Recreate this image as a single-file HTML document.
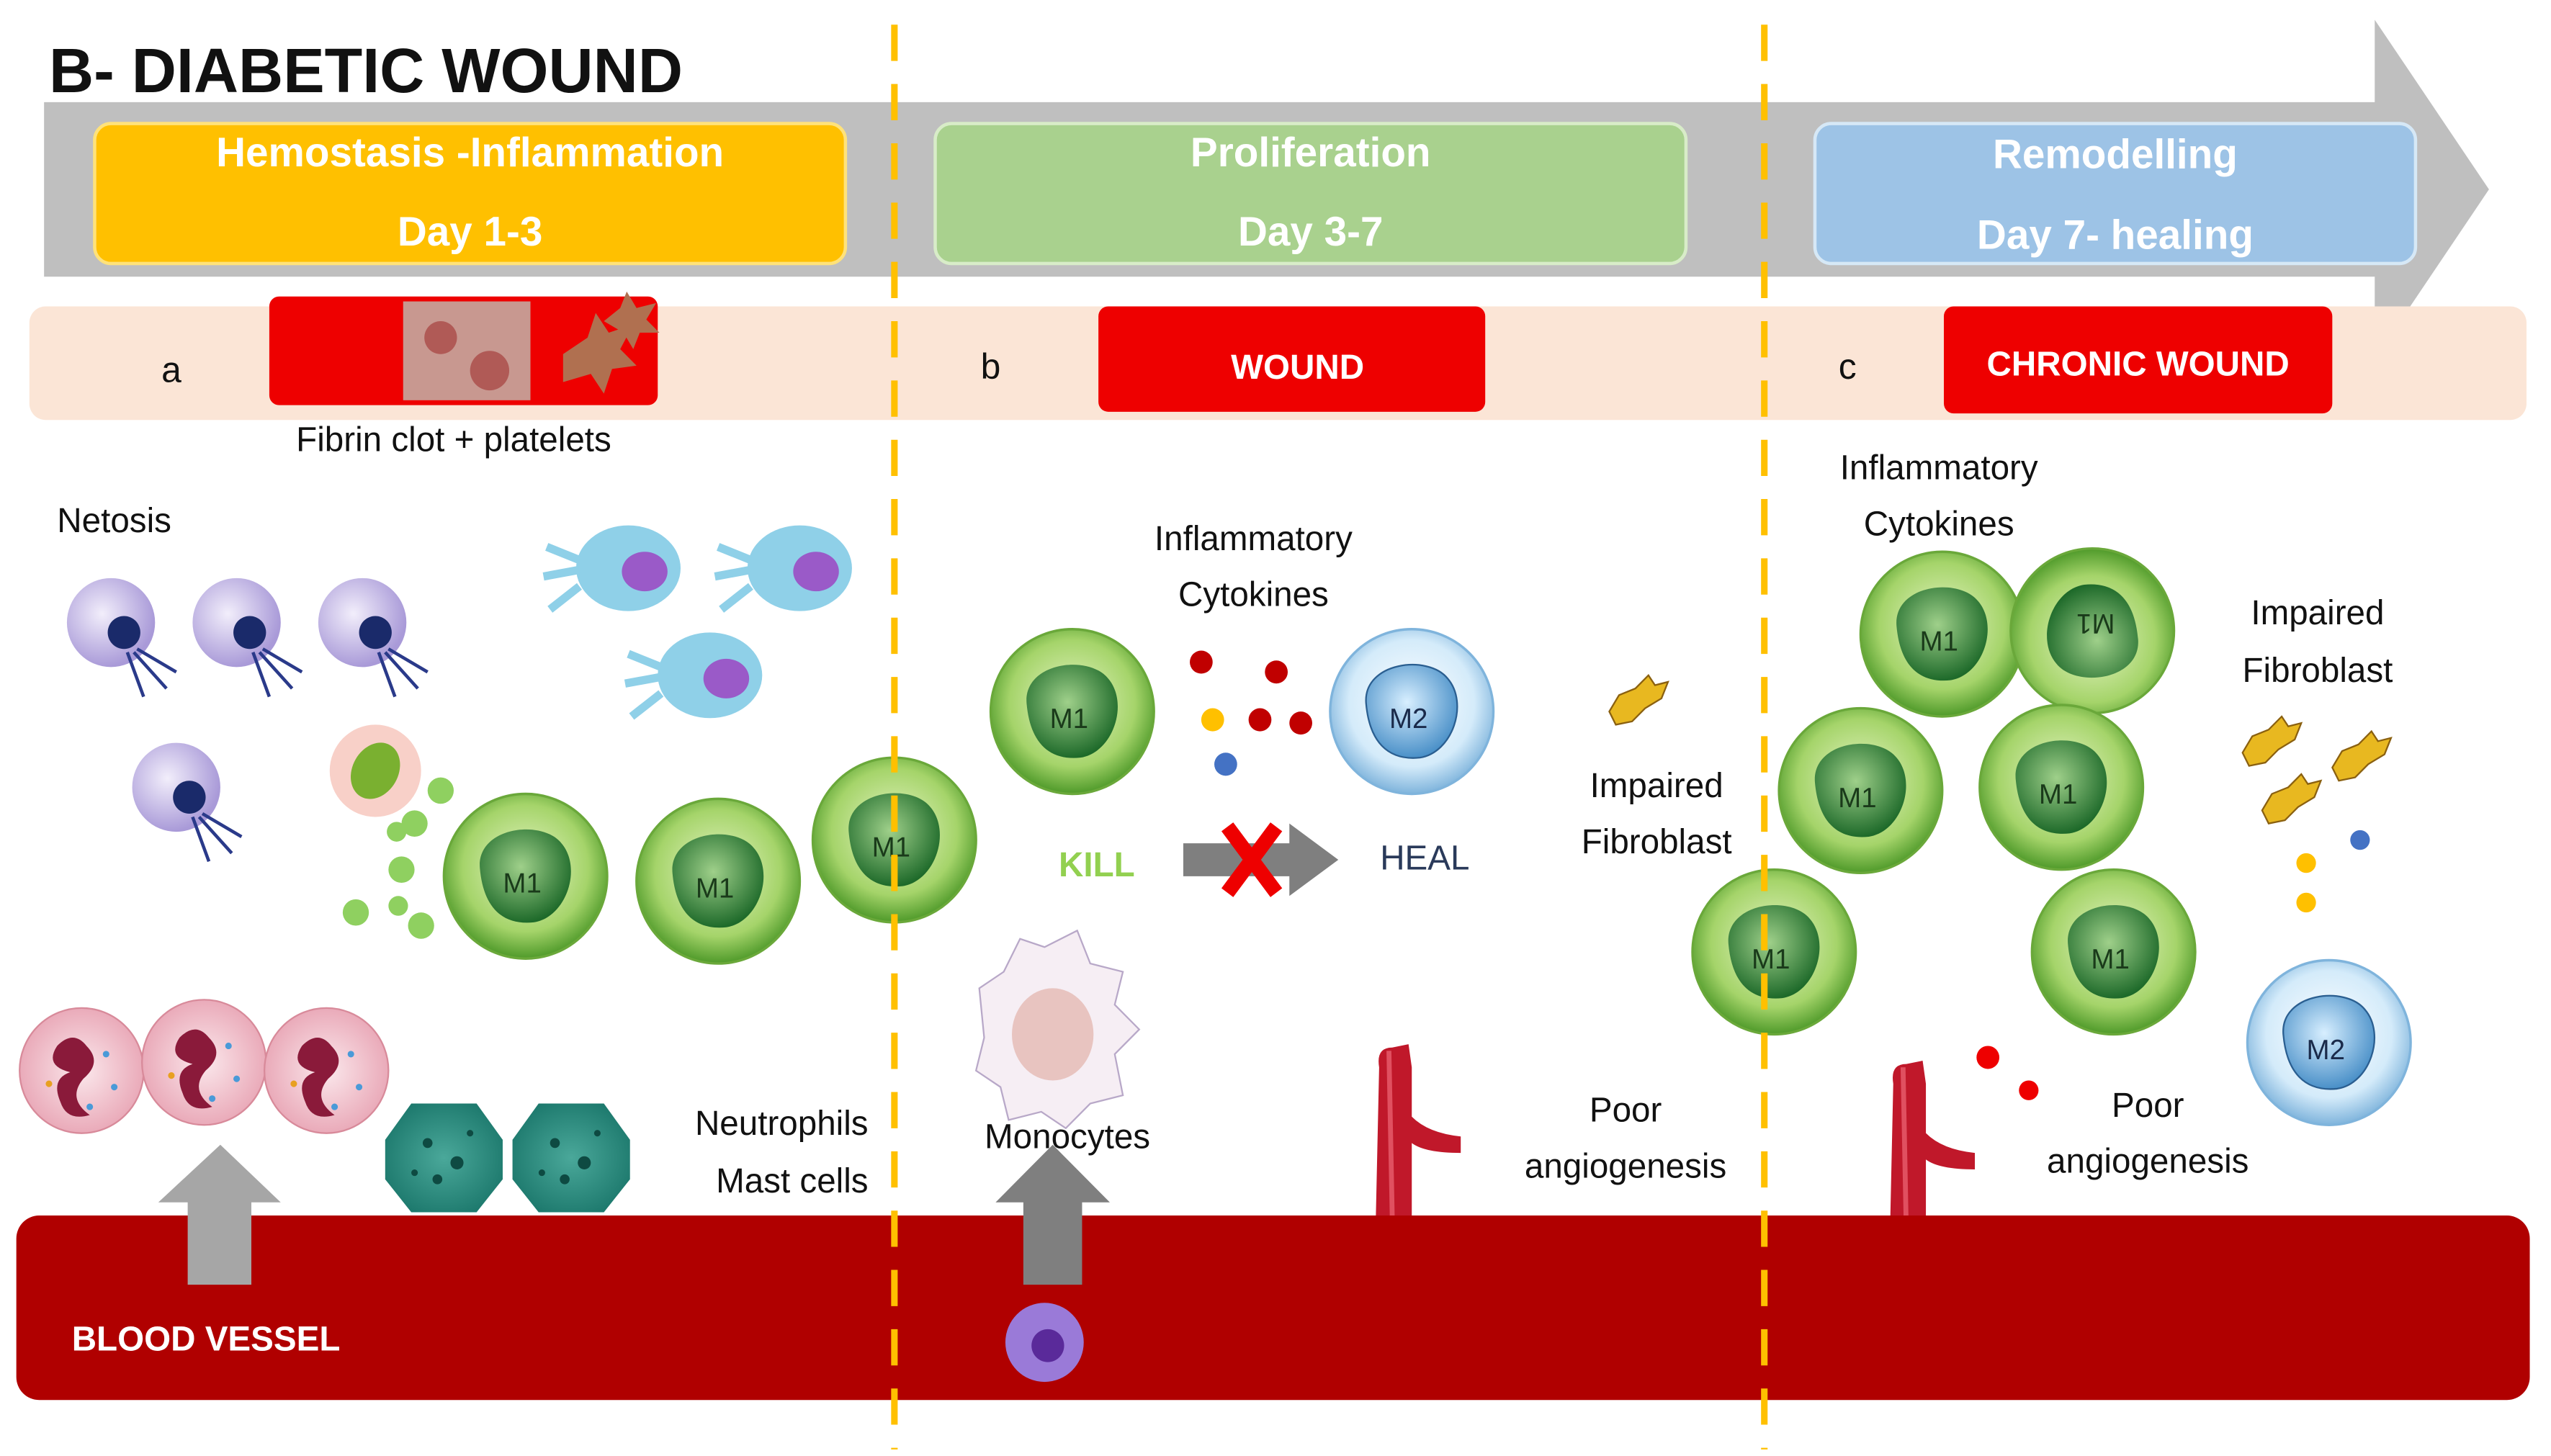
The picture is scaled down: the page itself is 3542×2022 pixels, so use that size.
<!DOCTYPE html>
<html><head><meta charset="utf-8"><style>
html,body{margin:0;padding:0;background:#fff;}
svg{display:block;}
text{font-family:"Liberation Sans","DejaVu Sans",sans-serif;}
</style></head><body>
<svg width="3542" height="2022" viewBox="0 0 1563 884" preserveAspectRatio="none" xmlns="http://www.w3.org/2000/svg">
<defs>
<radialGradient id="gM1" cx="50%" cy="45%" r="55%"><stop offset="0" stop-color="#e8f5c8"/><stop offset="0.7" stop-color="#a5d46a"/><stop offset="1" stop-color="#4f9a2a"/></radialGradient>
<radialGradient id="gN1" cx="45%" cy="40%" r="60%"><stop offset="0" stop-color="#9fd08a"/><stop offset="1" stop-color="#1e6a2a"/></radialGradient>
<radialGradient id="gM2" cx="50%" cy="45%" r="55%"><stop offset="0" stop-color="#ffffff"/><stop offset="0.7" stop-color="#d4ebfa"/><stop offset="1" stop-color="#7fb4dc"/></radialGradient>
<radialGradient id="gN2" cx="45%" cy="40%" r="60%"><stop offset="0" stop-color="#d8efff"/><stop offset="1" stop-color="#4a90c8"/></radialGradient>
<radialGradient id="gNeu" cx="50%" cy="50%" r="55%"><stop offset="0" stop-color="#fbe8ec"/><stop offset="1" stop-color="#e8a4b4"/></radialGradient>
<radialGradient id="gMast" cx="50%" cy="50%" r="55%"><stop offset="0" stop-color="#4aa89a"/><stop offset="1" stop-color="#1e7a6e"/></radialGradient>
<radialGradient id="gNet" cx="40%" cy="40%" r="60%"><stop offset="0" stop-color="#f2eefb"/><stop offset="1" stop-color="#a99ad8"/></radialGradient>
<g id="M1"><circle r="50" fill="url(#gM1)" stroke="#6aa83a" stroke-width="1.5"/><path d="M-28,-5 C-30,-30 10,-35 22,-20 C35,-5 25,25 5,28 C-15,30 -26,18 -28,-5Z" fill="url(#gN1)"/><text x="-2" y="10" font-size="17" text-anchor="middle" fill="#1a3a1a">M1</text></g>
<g id="M2"><circle r="50" fill="url(#gM2)" stroke="#7fb4dc" stroke-width="1.5"/><path d="M-28,-5 C-30,-30 10,-35 22,-20 C35,-5 25,25 5,28 C-15,30 -26,18 -28,-5Z" fill="url(#gN2)" stroke="#2a5e90"/><text x="-2" y="10" font-size="17" text-anchor="middle" fill="#1a2a4a">M2</text></g>
<g id="NET"><circle r="27" fill="url(#gNet)"/><circle cx="8" cy="6" r="10" fill="#1a2a6a"/><path d="M10,18 L20,45 M14,18 L34,40 M16,16 L40,30" stroke="#2a3a8a" stroke-width="2" fill="none"/></g>
<g id="NEU"><circle r="38" fill="url(#gNeu)" stroke="#d88a9a"/><path d="M-15,-15 q10,-10 18,0 q10,10 -2,20 q-10,12 4,22 q-14,4 -18,-8 q-6,-14 6,-18 q-16,-4 -8,-16z" fill="#8a1a3a"/><circle cx="15" cy="-10" r="2" fill="#4a9ad8"/><circle cx="20" cy="10" r="2" fill="#4a9ad8"/><circle cx="-20" cy="8" r="2" fill="#e8a020"/><circle cx="5" cy="22" r="2" fill="#4a9ad8"/></g>
<g id="MC"><path d="M-36,-10 L-20,-32 L20,-32 L36,-10 L36,14 L20,34 L-20,34 L-36,14Z" fill="url(#gMast)"/><circle cx="-10" cy="-8" r="3" fill="#0e4a42"/><circle cx="8" cy="4" r="4" fill="#0e4a42"/><circle cx="-4" cy="14" r="3" fill="#0e4a42"/><circle cx="16" cy="-14" r="2" fill="#0e4a42"/><circle cx="-18" cy="10" r="2" fill="#0e4a42"/></g>
<g id="BL"><ellipse rx="32" ry="26" fill="#8fd0e8"/><path d="M-30,-5 l-20,-8 m20,14 l-22,4 m22,6 l-18,14" stroke="#8fd0e8" stroke-width="5"/><ellipse cx="10" cy="2" rx="14" ry="12" fill="#9a5ac8"/></g>
<g id="FIB"><path d="M-14,4 l6,-10 l10,-4 l8,-8 l4,6 l8,-2 l-4,10 l-10,6 l-8,8 l-10,2z" fill="#e8b820" stroke="#8a6010"/></g>
<g id="VES"><path d="M-12,100 L-10,10 Q-12,-2 -2,-2 L8,-4 L10,10 L10,40 Q20,50 40,52 L40,62 Q18,62 10,56 L10,100Z" fill="#c0182a"/><path d="M-4,0 L-2,100" stroke="#e05060" stroke-width="3"/></g>
</defs>

<path d="M27,62 L1455,62 L1455,12 L1525,115 L1455,218 L1455,168 L27,168Z" fill="#bfbfbf"/>
<rect x="58" y="75" width="460" height="85" rx="10" fill="#ffc000" stroke="#ffe27a" stroke-width="2"/>
<rect x="573" y="75" width="460" height="85" rx="10" fill="#a9d18e" stroke="#d8ecc8" stroke-width="2"/>
<rect x="1112" y="75" width="368" height="85" rx="10" fill="#9dc3e6" stroke="#d6e8f6" stroke-width="2"/>
<g font-size="25" font-weight="bold" fill="#fff" text-anchor="middle">
<text x="288" y="101">Hemostasis -Inflammation</text><text x="288" y="149">Day 1-3</text>
<text x="803" y="101">Proliferation</text><text x="803" y="149">Day 3-7</text>
<text x="1296" y="102">Remodelling</text><text x="1296" y="151">Day 7- healing</text>
</g>
<text x="30" y="56" font-size="38" font-weight="bold" fill="#111">B- DIABETIC WOUND</text>

<rect x="18" y="186" width="1530" height="69" rx="10" fill="#fbe5d6"/>
<rect x="165" y="180" width="238" height="66" rx="6" fill="#ee0000"/>
<rect x="247" y="183" width="78" height="60" fill="#c89890"/>
<circle cx="270" cy="205" r="10" fill="#a03030" opacity=".6"/><circle cx="300" cy="225" r="12" fill="#a03030" opacity=".6"/>
<path d="M345,215 l15,-10 l5,-15 l8,12 l15,-5 l-8,15 l10,10 l-15,2 l-5,15 l-8,-12 l-17,5z" fill="#b07050"/>
<path d="M370,195 l10,-8 l4,-10 l6,10 l12,-3 l-6,10 l8,8 l-12,0 l-4,10 l-6,-10z" fill="#b07050"/>
<rect x="673" y="186" width="237" height="64" rx="6" fill="#ee0000"/>
<rect x="1191" y="186" width="238" height="65" rx="6" fill="#ee0000"/>
<text x="105" y="232" font-size="22" fill="#111" text-anchor="middle">a</text>
<text x="607" y="230" font-size="22" fill="#111" text-anchor="middle">b</text>
<text x="1132" y="230" font-size="22" fill="#111" text-anchor="middle">c</text>
<text x="795" y="230" font-size="21" font-weight="bold" fill="#fff" text-anchor="middle">WOUND</text>
<text x="1310" y="228" font-size="21" font-weight="bold" fill="#fff" text-anchor="middle">CHRONIC WOUND</text>

<g font-size="21" fill="#111">
<text x="278" y="274" text-anchor="middle">Fibrin clot + platelets</text>
<text x="35" y="323">Netosis</text>
<text x="768" y="334" text-anchor="middle">Inflammatory</text><text x="768" y="368" text-anchor="middle">Cytokines</text>
<text x="1188" y="291" text-anchor="middle">Inflammatory</text><text x="1188" y="325" text-anchor="middle">Cytokines</text>
<text x="1420" y="379" text-anchor="middle">Impaired</text><text x="1420" y="414" text-anchor="middle">Fibroblast</text>
<text x="1015" y="484" text-anchor="middle">Impaired</text><text x="1015" y="518" text-anchor="middle">Fibroblast</text>
<text x="532" y="689" text-anchor="end">Neutrophils</text><text x="532" y="724" text-anchor="end">Mast cells</text>
<text x="654" y="697" text-anchor="middle">Monocytes</text>
<text x="996" y="681" text-anchor="middle">Poor</text><text x="996" y="715" text-anchor="middle">angiogenesis</text>
<text x="1316" y="678" text-anchor="middle">Poor</text><text x="1316" y="712" text-anchor="middle">angiogenesis</text>
<text x="873" y="528" text-anchor="middle" fill="#2a3a5a">HEAL</text>
</g>
<text x="672" y="532" font-size="21" font-weight="bold" fill="#92d050" text-anchor="middle">KILL</text>

<use href="#NET" x="68" y="378"/><use href="#NET" x="145" y="378"/><use href="#NET" x="222" y="378"/><use href="#NET" x="108" y="478"/>
<use href="#BL" x="385" y="345"/><use href="#BL" x="490" y="345"/><use href="#BL" x="435" y="410"/>
<circle cx="230" cy="468" r="28" fill="#f8d0c8"/><ellipse cx="230" cy="468" rx="14" ry="18" fill="#7ab030" transform="rotate(30 230 468)"/>
<g fill="#8fd060"><circle cx="270" cy="480" r="8"/><circle cx="254" cy="500" r="8"/><circle cx="246" cy="528" r="8"/><circle cx="243" cy="505" r="6"/><circle cx="218" cy="554" r="8"/><circle cx="258" cy="562" r="8"/><circle cx="244" cy="550" r="6"/></g>
<use href="#M1" x="322" y="532"/><use href="#M1" x="440" y="535"/><use href="#M1" x="548" y="510"/>
<use href="#NEU" x="50" y="650"/><use href="#NEU" x="125" y="645"/><use href="#NEU" x="200" y="650"/>
<use href="#MC" x="272" y="702"/><use href="#MC" x="350" y="702"/>
<use href="#M1" x="657" y="432"/><use href="#M2" x="865" y="432"/>
<circle cx="736" cy="402" r="7" fill="#c00000"/><circle cx="782" cy="408" r="7" fill="#c00000"/><circle cx="743" cy="437" r="7" fill="#ffc000"/><circle cx="772" cy="437" r="7" fill="#c00000"/><circle cx="797" cy="439" r="7" fill="#c00000"/><circle cx="751" cy="464" r="7" fill="#4472c4"/>
<path d="M725,512 L790,512 L790,500 L820,522 L790,544 L790,532 L725,532Z" fill="#7f7f7f"/>
<path d="M752,502 L782,542 M782,502 L752,542" stroke="#ee0000" stroke-width="9"/>
<use href="#FIB" x="1000" y="428"/>
<path d="M600,600 l15,-10 l10,-20 l15,5 l20,-10 l8,20 l20,5 l-5,20 l15,15 l-15,15 l5,25 l-20,5 l-15,15 l-15,-10 l-20,5 l-5,-20 l-15,-10 l5,-20z" fill="#f6eef4" stroke="#b8a8c8"/>
<ellipse cx="645" cy="628" rx="25" ry="28" fill="#e8c4c0"/>
<use href="#VES" x="855" y="638"/>
<use href="#M1" x="1190" y="385"/><use href="#M1" x="1282" y="383" transform="rotate(180 1282 383)"/>
<use href="#M1" x="1140" y="480"/><use href="#M1" x="1263" y="478"/><use href="#M1" x="1087" y="578"/><use href="#M1" x="1295" y="578"/>
<use href="#M2" x="1427" y="633"/>
<use href="#FIB" x="1388" y="453"/><use href="#FIB" x="1443" y="462"/><use href="#FIB" x="1400" y="488"/>
<circle cx="1413" cy="524" r="6" fill="#ffc000"/><circle cx="1446" cy="510" r="6" fill="#4472c4"/><circle cx="1413" cy="548" r="6" fill="#ffc000"/>
<circle cx="1218" cy="642" r="7" fill="#ee0000"/><circle cx="1243" cy="662" r="6" fill="#ee0000"/>
<use href="#VES" x="1170" y="648"/>

<rect x="10" y="738" width="1540" height="112" rx="14" fill="#b00000"/>
<text x="44" y="820" font-size="21" font-weight="bold" fill="#fff">BLOOD VESSEL</text>
<path d="M115,780 L115,730 L97,730 L135,695 L172,730 L154,730 L154,780Z" fill="#a6a6a6"/>
<path d="M627,780 L627,730 L610,730 L645,695 L680,730 L663,730 L663,780Z" fill="#7f7f7f"/>
<circle cx="640" cy="815" r="24" fill="#9a7ad8"/><circle cx="642" cy="817" r="10" fill="#5a2a9a"/>

<g stroke="#ffc000" stroke-width="4" stroke-dasharray="22,14">
<line x1="548" y1="15" x2="548" y2="880"/><line x1="1081" y1="15" x2="1081" y2="880"/>
</g>
</svg>
</body></html>
